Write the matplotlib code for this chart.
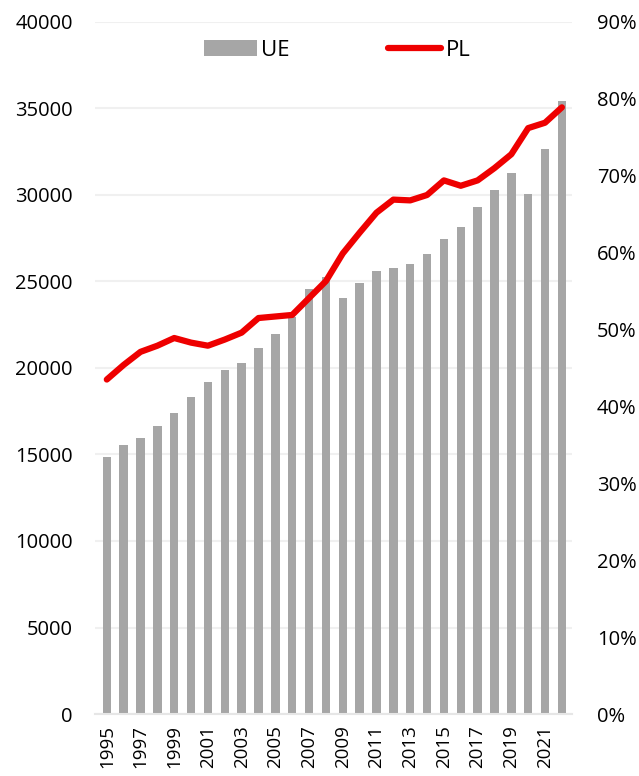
import matplotlib
matplotlib.use("Agg")
import matplotlib.pyplot as plt
import numpy as np

years = list(range(1995, 2023))
ue = [14870, 15550, 15970, 16650, 17380, 18340, 19190, 19870, 20310, 21160,
      21980, 22930, 24550, 25240, 24050, 24900, 25625, 25760, 26010, 26590,
      27475, 28170, 29310, 30270, 31290, 30040, 32680, 35420]
pl = [43.5, 45.4, 47.1, 47.9, 48.9, 48.3, 47.9, 48.7, 49.6, 51.5,
      51.7, 51.9, 54.1, 56.3, 59.9, 62.6, 65.2, 66.9, 66.8, 67.5,
      69.4, 68.7, 69.4, 71.0, 72.8, 76.2, 76.9, 78.9]
left_ticks = [0, 5000, 10000, 15000, 20000, 25000, 30000, 35000, 40000]
right_ticks = [0, 10, 20, 30, 40, 50, 60, 70, 80, 90]

plt.rcParams['font.family'] = ['Open Sans', 'DejaVu Sans']

fig = plt.figure(figsize=(6.39, 7.76), dpi=100)
ax = fig.add_axes([95/639, 1-714/776, (572-95)/639, (714-22)/776])
x = np.arange(len(years))
ax.bar(x, ue, width=0.5, color='#a6a6a6', label='UE', zorder=2)
ax.set_ylim(0, 40000)
ax.set_yticks(left_ticks)
ax.set_yticklabels([str(t) for t in left_ticks], fontsize=14.5)
ax.set_xlim(-0.7, len(years) - 0.4)
ax.set_xticks(x[::2])
ax.set_xticklabels([str(y) for y in years[::2]], rotation=90, fontsize=13.5)
ax.grid(axis='y', color='#f0f0f0', linewidth=1.5, zorder=0)
for s in ['top', 'right', 'left']:
    ax.spines[s].set_visible(False)
ax.spines['bottom'].set_color('#e6e6e6')
ax.spines['bottom'].set_linewidth(1.5)
ax.tick_params(axis='y', length=0, pad=16)
ax.tick_params(axis='x', length=0, pad=8)

ax2 = ax.twinx()
ax2.plot(x, pl, color='#ee0000', linewidth=4.5, solid_capstyle='round', label='PL', zorder=3)
ax2.set_ylim(0, 90)
ax2.set_yticks(right_ticks)
ax2.set_yticklabels([f"{t}%" for t in right_ticks], fontsize=14.5)
for s in ['top', 'right', 'left', 'bottom']:
    ax2.spines[s].set_visible(False)
ax2.tick_params(axis='y', length=0, pad=18)

h1, l1 = ax.get_legend_handles_labels()
h2, l2 = ax2.get_legend_handles_labels()
fig.legend(h1 + h2, l1 + l2, loc='center', bbox_to_anchor=(337/639, 1-50/776),
           ncol=2, frameon=False, fontsize=16, columnspacing=4.4,
           handlelength=2.4, handletextpad=0.2)

fig.savefig('out.png', dpi=100)
